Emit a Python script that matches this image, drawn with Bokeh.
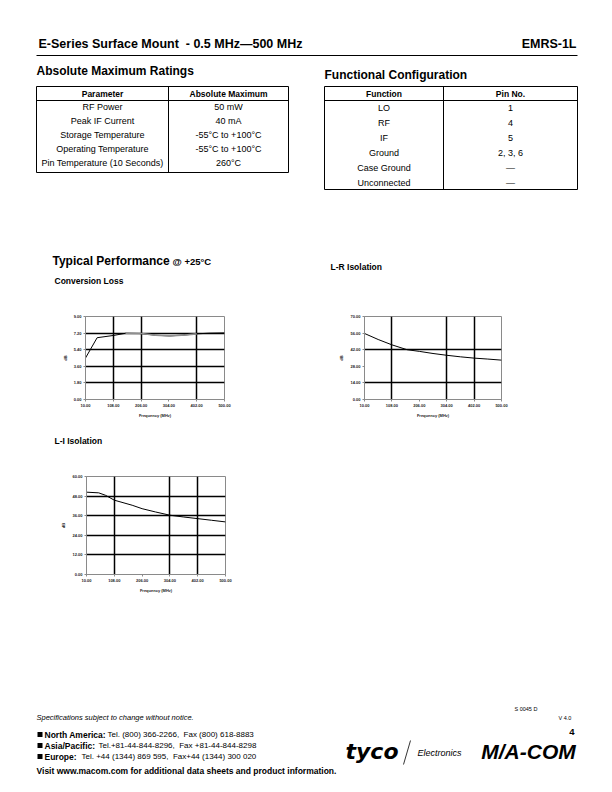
from bokeh.plotting import figure
from bokeh.models import Range1d, FixedTicker, PrintfTickFormatter, Spacer
from bokeh.layouts import column, row
from bokeh.core.properties import value
from bokeh.embed import file_html
from bokeh.resources import INLINE

# ---------------- data ----------------
freq_ticks = [10, 108, 206, 304, 402, 500]

cl_freq = [10, 51, 110, 151, 206, 257, 307, 362, 402, 445, 500]
cl_loss = [4.5, 6.7, 6.95, 7.18, 7.15, 6.97, 6.9, 7.0, 7.12, 7.19, 7.22]
cl_yticks = [0.0, 1.8, 3.6, 5.4, 7.2, 9.0]

lr_freq = [10, 59, 108, 162, 206, 255, 304, 353, 402, 451, 500]
lr_iso = [55.7, 50.6, 46.1, 42.0, 40.6, 38.8, 37.3, 36.0, 34.9, 34.1, 33.2]
lr_yticks = [0, 14, 28, 42, 56, 70]

li_freq = [10, 53, 77, 108, 171, 206, 253, 304, 353, 402, 451, 500]
li_iso = [50.4, 50.0, 48.5, 45.5, 42.4, 40.3, 38.3, 36.3, 35.2, 34.2, 33.2, 32.2]
li_yticks = [0, 12, 24, 36, 48, 60]

amr_header = ["Parameter", "Absolute Maximum"]
amr_params = ["RF Power", "Peak IF Current", "Storage Temperature",
              "Operating Temperature", "Pin Temperature (10 Seconds)"]
amr_values = ["50 mW", "40 mA", "-55°C to +100°C", "-55°C to +100°C", "260°C"]

fc_header = ["Function", "Pin No."]
fc_funcs = ["LO", "RF", "IF", "Ground", "Case Ground", "Unconnected"]
fc_pins = ["1", "4", "5", "2, 3, 6", "—", "—"]

contacts = [("North America:", "Tel. (800) 366-2266,\u00a0 Fax (800) 618-8883"),
            ("Asia/Pacific:", "Tel.+81-44-844-8296,\u00a0 Fax +81-44-844-8298"),
            ("Europe:", "Tel. +44 (1344) 869 595,\u00a0 Fax+44 (1344) 300 020")]

FONT = "Liberation Sans"


def page_fig(y0, y1):
    p = figure(width=596, height=y1 - y0, x_range=Range1d(0, 596),
               y_range=Range1d(y1, y0), output_backend="svg",
               toolbar_location=None, x_axis_location=None,
               y_axis_location=None, min_border=0, outline_line_color=None,
               title=None)
    p.grid.visible = False
    return p


def txt(p, x, y, s, size, style="normal", align="left", color="black", font=FONT):
    p.text(x=[x], y=[y], text=[s], text_font=value(font),
           text_font_size=f"{size}px", text_font_style=style,
           text_align=align, text_baseline="middle", text_color=color)


def chart(w, h, yr, yticks, xgrid, ygrid, left, right, top, bottom):
    p = figure(width=w, height=h, x_range=Range1d(10, 500), y_range=Range1d(0, yr),
               min_border_left=left, min_border_right=right,
               min_border_top=top, min_border_bottom=bottom,
               output_backend="svg", toolbar_location=None, title=None,
               outline_line_color="#8a8a8a", outline_line_width=1)
    p.xaxis.ticker = FixedTicker(ticks=freq_ticks)
    p.yaxis.ticker = FixedTicker(ticks=yticks)
    p.axis.formatter = PrintfTickFormatter(format="%.2f")
    p.xgrid.ticker = FixedTicker(ticks=xgrid)
    p.ygrid.ticker = FixedTicker(ticks=ygrid)
    p.grid.grid_line_color = "black"
    p.grid.grid_line_width = 1.5
    p.axis.minor_tick_line_color = None
    p.axis.major_tick_in = 0
    p.axis.major_tick_out = 2
    p.axis.major_tick_line_color = "#8a8a8a"
    p.axis.axis_line_color = "#8a8a8a"
    p.axis.major_label_text_font = FONT
    p.axis.major_label_text_font_size = "4px"
    p.axis.major_label_text_font_style = "bold"
    p.axis.major_label_text_color = "#222222"
    p.axis.major_label_standoff = 2
    p.axis.axis_label_text_font = FONT
    p.axis.axis_label_text_font_size = "4px"
    p.axis.axis_label_text_font_style = "bold"
    p.axis.axis_label_text_color = "#222222"
    p.axis.axis_label_standoff = 3
    p.xaxis.axis_label = "Frequency (MHz)"
    p.yaxis.axis_label = "dB"
    return p


# ---------------- top block (page y 0..296) ----------------
top = page_fig(0, 296)
txt(top, 38, 43, "E-Series Surface Mount\u00a0 - 0.5 MHz—500 MHz", 12.5, "bold")
txt(top, 576, 43, "EMRS-1L", 12.5, "bold", "right")
top.segment(x0=[36], y0=[55], x1=[577], y1=[55], line_color="black", line_width=1)
txt(top, 36, 70, "Absolute Maximum Ratings", 12, "bold")
txt(top, 324, 74, "Functional Configuration", 12, "bold")

# Absolute maximum ratings table
ax0, ax1, ax2 = 36, 168, 288
ay0, ayh, ay1 = 86, 100, 172
top.quad(left=[ax0], right=[ax2], top=[ay0], bottom=[ay1], fill_color=None,
         line_color="black", line_width=1)
top.segment(x0=[ax0, ax1], y0=[ayh, ay0], x1=[ax2, ax1], y1=[ayh, ay1],
            line_color="black", line_width=1)
txt(top, (ax0 + ax1) / 2, 93, amr_header[0], 8.5, "bold", "center")
txt(top, (ax1 + ax2) / 2, 93, amr_header[1], 8.5, "bold", "center")
for i, (a, b) in enumerate(zip(amr_params, amr_values)):
    yy = 106 + 14 * i
    txt(top, (ax0 + ax1) / 2, yy, a, 9, "normal", "center")
    txt(top, (ax1 + ax2) / 2, yy, b, 9, "normal", "center")

# Functional configuration table
fx0, fx1, fx2 = 324, 443, 577
fy0, fyh, fy1 = 86, 100, 189
top.quad(left=[fx0], right=[fx2], top=[fy0], bottom=[fy1], fill_color=None,
         line_color="black", line_width=1)
top.segment(x0=[fx0, fx1], y0=[fyh, fy0], x1=[fx2, fx1], y1=[fyh, fy1],
            line_color="black", line_width=1)
txt(top, (fx0 + fx1) / 2, 93, fc_header[0], 8.5, "bold", "center")
txt(top, (fx1 + fx2) / 2, 93, fc_header[1], 8.5, "bold", "center")
for i, (a, b) in enumerate(zip(fc_funcs, fc_pins)):
    yy = 107 + 15 * i
    txt(top, (fx0 + fx1) / 2, yy, a, 9, "normal", "center")
    txt(top, (fx1 + fx2) / 2, yy, b, 9, "normal", "center")

txt(top, 52, 260, "Typical Performance", 12, "bold")
txt(top, 172, 261, "@ +25°C", 9.5, "bold")
txt(top, 54, 280, "Conversion Loss", 8.5, "bold")
txt(top, 330, 266, "L-R Isolation", 8.5, "bold")

# ---------------- charts ----------------
cl = chart(298, 136, 9.0, cl_yticks, [108, 206, 402], [1.8, 3.6, 5.4, 7.2], 85, 74, 20, 22)
cl.line(cl_freq, cl_loss, line_color="black", line_width=1)
cl.line(cl_freq[3:9], cl_loss[3:9], line_color="#8f8f8f", line_width=1.6)

lr = chart(298, 136, 70, lr_yticks, [108, 304, 402], [14, 42], 66, 95, 5, 33)
lr.line(lr_freq, lr_iso, line_color="black", line_width=1)

mid = page_fig(432, 468)
txt(mid, 54, 440, "L-I Isolation", 8.5, "bold")

li = chart(298, 130, 60, li_yticks, [108, 304, 402], [12, 24, 36, 48], 86, 73, 8, 24)
li.line(li_freq, li_iso, line_color="black", line_width=1)

# ---------------- footer (page y 598..784) ----------------
bot = page_fig(598, 784)
txt(bot, 514, 708, "S 0045 D", 5.5)
txt(bot, 558, 717, "V 4.0", 5.5)
txt(bot, 36, 717, "Specifications subject to change without notice.", 7.5, "italic")
txt(bot, 574, 731, "4", 9.5, "bold", "right")
rest_x = [107, 98, 81]
for i, (lab, rest) in enumerate(contacts):
    yy = 734 + 11 * i
    bot.rect(x=[39.5], y=[yy], width=5, height=5, fill_color="black", line_color=None)
    txt(bot, 44, yy, lab, 8.5, "bold")
    txt(bot, rest_x[i], yy, rest, 8)
txt(bot, 36, 770, "Visit www.macom.com for additional data sheets and product information.", 8.5, "bold")

txt(bot, 345, 751, "tyco", 22, "bold italic", font="DejaVu Sans")
bot.segment(x0=[403], y0=[764], x1=[410], y1=[740], line_color="black", line_width=0.8)
txt(bot, 417, 752, "Electronics", 9, "italic")
txt(bot, 528, 751, "M/A-COM", 21, "bold italic", "center")

layout = column(top, row(cl, lr), mid, row(li, Spacer(width=298, height=130)), bot)

open("out.html", "w").write(file_html(layout, INLINE))
